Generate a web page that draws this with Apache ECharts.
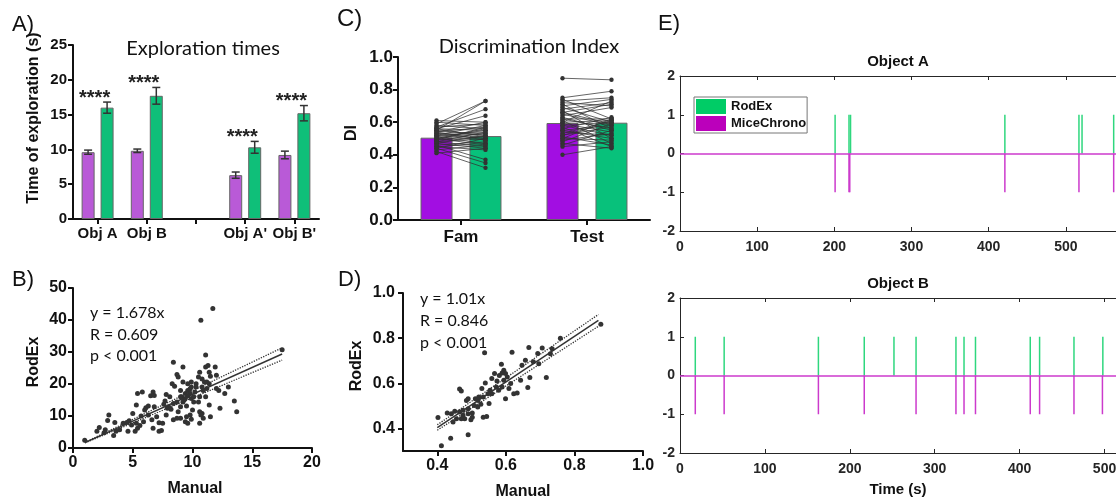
<!DOCTYPE html>
<html>
<head>
<meta charset="utf-8">
<title>RodEx vs manual scoring</title>
<script src="https://cdn.jsdelivr.net/npm/echarts@6/dist/echarts.min.js"></script>
<style>
html,body{margin:0;padding:0;background:#fff;}
#main{width:1116px;height:502px;}
</style>
</head>
<body>
<div id="main"></div>
<script>
// A) exploration times (manual = purple, RodEx = green)
var aCats = ["Obj A", "Obj B", "", "Obj A'", "Obj B'"];
var aManual = [9.6, 9.8, '-', 6.3, 9.2];
var aManualErr = [0.3, 0.25, 0, 0.45, 0.55];
var aRodEx = [16.0, 17.7, '-', 10.3, 15.2];
var aRodExErr = [0.8, 1.2, 0, 0.85, 1.1];
var aStars = ['****', '****', '', '****', '****'];

// B) RodEx vs manual times
var bPoints = [
  [0.98,2.4],[2.2,6.4],[2.7,5.7],[3.0,10.3],[2.9,8.6],[2.6,4.8],[3.5,8.0],[3.4,3.9],[3.9,5.7],[4.6,5.2],
  [4.5,8.0],[4.7,8.5],[5.3,13.4],[5.4,17.0],[5.8,17.5],[5.3,7.7],[5.2,5.2],[5.4,6.2],[5.6,7.0],[5.9,8.2],
  [5.7,10.0],[6.1,12.6],[6.3,13.1],[6.5,16.3],[6.7,17.5],[6.8,16.4],[6.3,10.3],[6.6,8.8],[6.7,6.2],[7.0,9.8],
  [7.2,5.2],[7.4,5.5],[7.2,7.9],[7.5,7.7],[7.6,13.7],[7.9,12.4],[7.8,16.7],[8.0,12.9],[8.2,12.1],[8.4,13.9],
  [8.4,26.8],[8.3,20.1],[8.5,19.3],[8.7,23.0],[8.8,22.2],[9.0,18.0],[9.1,16.0],[9.2,25.3],[9.4,17.0],[9.2,14.4],
  [9.4,15.5],[9.6,18.0],[9.6,16.3],[9.8,18.5],[9.9,15.5],[9.9,20.6],[10.1,14.4],[10.0,11.9],[9.8,10.3],[9.5,9.8],
  [9.4,8.2],[9.0,9.3],[8.8,11.3],[8.4,8.8],[10.3,20.1],[10.5,22.2],[10.6,23.7],[10.8,21.6],[10.9,18.0],[11.0,20.6],
  [11.1,25.3],[11.1,29.1],[11.3,25.8],[11.4,23.7],[11.5,22.4],[11.4,20.1],[11.2,18.6],[11.1,16.0],[11.4,13.4],[10.8,10.8],
  [10.6,11.3],[10.7,10.3],[11.5,9.8],[11.9,25.3],[12.0,18.6],[12.0,22.7],[12.2,18.0],[12.3,12.4],[13.0,19.1],[12.7,17.0],
  [13.5,14.7],[13.7,11.3],[17.5,30.7],[10.7,39.9],[11.7,43.6],[10.3,19.1],[10.2,17.5],[10.6,16.0],[10.5,14.4],[9.5,13.1],
  [9.0,12.9],[8.7,14.4],[8.1,16.0],[7.7,14.7],[9.8,17.0],[10.1,16.0],[10.8,19.1],[11.2,20.6],[9.6,20.1],[9.2,20.6],
  [9.0,16.0],[9.3,15.0],[10.6,7.7],[10.9,9.3],[9.6,7.7],[9.9,9.0],[8.7,9.3],[7.8,10.3],[6.8,12.9],[6.0,11.9],
  [5.0,10.8],[4.2,7.7],[4.9,7.2],[3.6,5.2],[2.0,5.2],[9.9,19.1]
];
var bFitX = [1, 17.5];
var bSlope = 1.678;
var bSlopeCI = [1.57, 1.79];
var bStats = ['y = 1.678x', 'R = 0.609', 'p < 0.001'];

// C) discrimination index, paired values [manual, RodEx]
var cCats = ['Fam', 'Test'];
var cManual = [0.505, 0.595];
var cRodEx = [0.515, 0.597];
var cFamPairs = [
  [0.61,0.60],[0.60,0.58],[0.59,0.73],[0.58,0.56],[0.57,0.68],[0.57,0.59],[0.56,0.64],[0.56,0.55],[0.55,0.73],[0.55,0.52],
  [0.54,0.60],[0.54,0.57],[0.53,0.54],[0.53,0.50],[0.52,0.58],[0.52,0.49],[0.51,0.55],[0.51,0.47],[0.50,0.53],[0.50,0.46],
  [0.49,0.51],[0.49,0.57],[0.48,0.45],[0.48,0.50],[0.47,0.44],[0.47,0.52],[0.46,0.48],[0.46,0.37],[0.45,0.43],[0.45,0.47],
  [0.44,0.35],[0.44,0.50],[0.43,0.46],[0.42,0.32],[0.41,0.44],[0.52,0.53],[0.54,0.49],[0.50,0.56],[0.48,0.54],[0.56,0.51]
];
var cTestPairs = [
  [0.87,0.86],[0.75,0.79],[0.74,0.62],[0.73,0.75],[0.72,0.70],[0.71,0.56],[0.70,0.74],[0.69,0.60],[0.68,0.72],[0.67,0.50],
  [0.66,0.71],[0.65,0.58],[0.64,0.69],[0.63,0.55],[0.62,0.62],[0.61,0.47],[0.60,0.73],[0.60,0.61],[0.59,0.54],[0.58,0.60],
  [0.57,0.45],[0.56,0.63],[0.55,0.58],[0.54,0.52],[0.53,0.61],[0.52,0.57],[0.51,0.46],[0.50,0.62],[0.49,0.53],[0.48,0.59],
  [0.47,0.44],[0.46,0.55],[0.45,0.48],[0.40,0.45],[0.58,0.52],[0.62,0.56],[0.66,0.59],[0.55,0.50],[0.52,0.60],[0.50,0.49]
];

// D) RodEx vs manual DI
var dPoints = [
  [0.402,0.448],[0.412,0.323],[0.439,0.357],[0.490,0.372],[0.429,0.468],[0.441,0.465],[0.451,0.476],[0.465,0.473],[0.475,0.458],[0.480,0.443],
  [0.470,0.443],[0.498,0.438],[0.502,0.468],[0.490,0.487],[0.485,0.524],[0.490,0.531],[0.465,0.575],[0.470,0.566],[0.511,0.531],[0.519,0.524],
  [0.521,0.539],[0.527,0.507],[0.534,0.450],[0.544,0.453],[0.530,0.577],[0.540,0.601],[0.551,0.510],[0.554,0.569],[0.559,0.554],[0.567,0.643],
  [0.574,0.610],[0.581,0.635],[0.587,0.684],[0.589,0.584],[0.594,0.613],[0.599,0.643],[0.604,0.628],[0.599,0.531],[0.609,0.577],[0.623,0.554],
  [0.633,0.557],[0.538,0.735],[0.618,0.737],[0.643,0.613],[0.657,0.702],[0.667,0.759],[0.664,0.581],[0.670,0.626],[0.693,0.732],[0.706,0.756],
  [0.696,0.687],[0.718,0.626],[0.759,0.799],[0.877,0.862],[0.680,0.695],[0.647,0.680],[0.572,0.584],[0.548,0.554],[0.518,0.495],[0.508,0.502],
  [0.456,0.443],[0.446,0.428],[0.502,0.450],[0.579,0.569],[0.614,0.599],[0.594,0.658],[0.559,0.621],[0.534,0.539],[0.490,0.465],[0.475,0.480],
  [0.735,0.753],[0.730,0.731],[0.589,0.646]
];
var dFitX = [0.4, 0.87];
var dSlope = 1.01;
var dSlopeCI = [0.98, 1.04];
var dTicks = [0.4, 0.6, 0.8, 1.0];
var dStats = ['y = 1.01x', 'R = 0.846', 'p < 0.001'];

// E) exploration events over time (s)
var eTopRodEx = [201, 219, 221, 421, 517, 521, 562];
var eTopMice = [201, 219, 220, 421, 517, 562];
var eBotRodEx = [18, 52, 163, 217, 252, 278, 325, 334.5, 348, 412.5, 423.5, 464, 498];
var eBotMice = [18, 52, 163, 217, 278, 325, 334.5, 348, 412.5, 423.5, 464, 497.5];

var ink = '#111';
var aPurple = '#B95AD7', aGreen = '#0FBF79';
var cPurple = '#A20EE2', cGreen = '#08C17B';
var eGreen = '#2FD77E', ePurple = '#CC3ACC';

function gpAxis(o) {
  var ax = {
    type: o.type || 'value',
    gridIndex: o.grid,
    min: o.min, max: o.max, interval: o.interval,
    axisLine: {show: true, onZero: false, lineStyle: {color: ink, width: 2}},
    axisTick: {show: true, length: 5, alignWithLabel: true, interval: 0, lineStyle: {color: ink, width: 2}},
    axisLabel: {color: ink, fontWeight: 'bold', fontSize: o.size, fontFamily: 'Liberation Sans', margin: o.margin, formatter: o.formatter, interval: 0},
    splitLine: {show: false}
  };
  if (o.data) ax.data = o.data;
  if (o.ticks) {
    ax.axisTick.customValues = o.ticks;
    ax.axisLabel.customValues = o.ticks;
  }
  return ax;
}

function mlAxis(o) {
  return {
    type: 'value', gridIndex: o.grid, position: o.position,
    min: o.min, max: o.max, interval: o.interval,
    axisLine: {show: true, onZero: false, lineStyle: {color: '#262626', width: 1}},
    axisTick: {show: true, inside: true, length: 4, lineStyle: {color: '#262626', width: 1}},
    axisLabel: {show: o.labels !== false, color: '#262626', fontWeight: 'bold', fontSize: 14, fontFamily: 'Liberation Sans', margin: o.margin},
    splitLine: {show: false}
  };
}

function oneDec(v) { return v.toFixed(1); }

function errorBars(shift, stars) {
  return function (params, api) {
    var i = api.value(0), m = api.value(1), e = api.value(2);
    var c = api.coord([i, m]);
    var hi = api.coord([i, m + e]);
    var lo = api.coord([i, m - e]);
    var x = c[0] + shift;
    var st = {stroke: '#333', lineWidth: 1.5};
    var kids = [
      {type: 'line', shape: {x1: x, y1: hi[1], x2: x, y2: lo[1]}, style: st},
      {type: 'line', shape: {x1: x - 4, y1: hi[1], x2: x + 4, y2: hi[1]}, style: st},
      {type: 'line', shape: {x1: x - 4, y1: lo[1], x2: x + 4, y2: lo[1]}, style: st}
    ];
    if (stars && stars[i]) {
      kids.push({type: 'text', x: c[0] - 3, y: hi[1] - 4,
        style: {text: stars[i], font: 'bold 20px "Liberation Sans"', fill: '#222',
          align: 'center', verticalAlign: 'middle', textAlign: 'center', textVerticalAlign: 'middle'}});
    }
    return {type: 'group', children: kids};
  };
}

function pairLines(params, api) {
  var i = api.value(0);
  var a = api.coord([i, api.value(1)]);
  var b = api.coord([i, api.value(2)]);
  var x1 = a[0] - 24.5, x2 = b[0] + 24.5;
  return {type: 'group', children: [
    {type: 'line', shape: {x1: x1, y1: a[1], x2: x2, y2: b[1]}, style: {stroke: 'rgba(50,50,50,0.75)', lineWidth: 1}},
    {type: 'circle', shape: {cx: x1, cy: a[1], r: 2.2}, style: {fill: '#333'}},
    {type: 'circle', shape: {cx: x2, cy: b[1], r: 2.2}, style: {fill: '#333'}}
  ]};
}

function eventLines(color, level) {
  return function (params, api) {
    var t = api.value(0);
    var p0 = api.coord([t, 0]), p1 = api.coord([t, level]);
    return {type: 'line', shape: {x1: p0[0], y1: p0[1], x2: p1[0], y2: p1[1]}, style: {stroke: color, lineWidth: 1.5}};
  };
}

function errData(vals, errs) {
  var out = [];
  for (var i = 0; i < vals.length; i++) {
    if (vals[i] !== '-') out.push([i, vals[i], errs[i]]);
  }
  return out;
}

function pairData(idx, pairs) {
  return pairs.map(function (p) { return [idx, p[0], p[1]]; });
}

function fitLine(xs, slope, x, y, dotted) {
  return {
    type: 'line', xAxisIndex: x, yAxisIndex: y, silent: true, symbol: 'none', z: 4,
    data: xs.map(function (v) { return [v, v * slope]; }),
    lineStyle: {color: '#333', width: dotted ? 1.3 : 1.5, type: dotted ? 'dotted' : 'solid'}
  };
}

function events(name, times, x, y, color, level, legendColor, zeroLine) {
  var s = {
    type: 'custom', name: name, xAxisIndex: x, yAxisIndex: y,
    renderItem: eventLines(color, level),
    data: times.map(function (t) { return [t]; }),
    encode: {x: 0},
    itemStyle: {color: legendColor},
    z: 3
  };
  if (zeroLine) {
    s.markLine = {silent: true, symbol: ['none', 'none'], label: {show: false}, animation: false,
      lineStyle: {color: color, width: 1.5, type: 'solid'}, data: [{yAxis: 0}]};
  }
  return s;
}

function txt(t, x, y, font, align, rot) {
  return {type: 'text', x: x, y: y, rotation: rot || 0, z: 10,
    style: {text: t, font: font, fill: ink, align: align || 'left', verticalAlign: 'middle',
      textAlign: align || 'left', textVerticalAlign: 'middle'}};
}

var labelFont = '22px "Liberation Sans"';
var titleFont = '20px Lato';
var statFont = '16px Lato';
var nameFont = 'bold 16px "Liberation Sans"';
var mlFont = 'bold 15px "Liberation Sans"';

var texts = [
  txt('A)', 12, 25, labelFont), txt('B)', 12, 280, labelFont), txt('C)', 337, 19, '24px "Liberation Sans"'),
  txt('D)', 338, 280, labelFont), txt('E)', 658, 24, labelFont),
  txt('Exploration times', 203, 49, titleFont, 'center'),
  txt('Discrimination Index', 529, 47, titleFont, 'center'),
  txt('Object A', 898, 62, mlFont, 'center'),
  txt('Object B', 898, 284, mlFont, 'center'),
  txt('Time (s)', 898, 490, mlFont, 'center'),
  txt('Time of exploration (s)', 34, 118, nameFont, 'center', Math.PI / 2),
  txt('RodEx', 34, 362, nameFont, 'center', Math.PI / 2),
  txt('Manual', 195, 489, nameFont, 'center'),
  txt('DI', 352, 133, nameFont, 'center', Math.PI / 2),
  txt('RodEx', 357, 366, nameFont, 'center', Math.PI / 2),
  txt('Manual', 523, 492, nameFont, 'center')
];
bStats.forEach(function (s, i) { texts.push(txt(s, 90, 313 + i * 21.5, statFont)); });
dStats.forEach(function (s, i) { texts.push(txt(s, 420, 299 + i * 22, statFont)); });

var grids = [
  {left: 73, top: 45, width: 246, height: 174},
  {left: 73, top: 288, width: 239, height: 160},
  {left: 398, top: 57, width: 252, height: 163},
  {left: 403, top: 293, width: 240, height: 158},
  {left: 680, top: 76, width: 463, height: 155},
  {left: 680, top: 298, width: 467, height: 155}
];
grids.forEach(function (g) { g.containLabel = false; g.outerBoundsMode = 'none'; });

var option = {
  animation: false,
  backgroundColor: '#fff',
  grid: grids,
  graphic: texts,
  legend: {
    data: [{name: 'RodEx', icon: 'rect'}, {name: 'MiceChrono', icon: 'rect'}],
    orient: 'vertical', left: 694, top: 97,
    itemWidth: 30, itemHeight: 15, itemGap: 2,
    padding: [2, 1, 2, 2],
    backgroundColor: '#fff', borderColor: '#777', borderWidth: 1, borderRadius: 0,
    textStyle: {color: '#111', fontWeight: 'bold', fontSize: 13, fontFamily: 'Liberation Sans'},
    selectedMode: false
  },
  xAxis: [
    gpAxis({type: 'category', grid: 0, data: aCats, size: 15, margin: 7}),
    gpAxis({grid: 1, min: 0, max: 20, interval: 5, size: 16, margin: 7}),
    gpAxis({type: 'category', grid: 2, data: cCats, size: 17, margin: 9}),
    gpAxis({grid: 3, min: 0.3, max: 1.0, ticks: dTicks, size: 16, margin: 7, formatter: oneDec}),
    mlAxis({grid: 4, position: 'bottom', min: 0, max: 600, interval: 100, margin: 9}),
    mlAxis({grid: 4, position: 'top', min: 0, max: 600, interval: 100, labels: false}),
    mlAxis({grid: 5, position: 'bottom', min: 0, max: 550, interval: 100, margin: 9}),
    mlAxis({grid: 5, position: 'top', min: 0, max: 550, interval: 100, labels: false})
  ],
  yAxis: [
    gpAxis({grid: 0, min: 0, max: 25, interval: 5, size: 15, margin: 6}),
    gpAxis({grid: 1, min: 0, max: 50, interval: 10, size: 16, margin: 6}),
    gpAxis({grid: 2, min: 0, max: 1, interval: 0.2, size: 17, margin: 5, formatter: oneDec}),
    gpAxis({grid: 3, min: 0.3, max: 1.0, ticks: dTicks, size: 16, margin: 8, formatter: oneDec}),
    mlAxis({grid: 4, min: -2, max: 2, interval: 1, margin: 5}),
    mlAxis({grid: 5, min: -2, max: 2, interval: 1, margin: 5})
  ],
  series: [
    {type: 'bar', name: 'A manual', xAxisIndex: 0, yAxisIndex: 0, data: aManual, barWidth: 13, barGap: '46%',
      itemStyle: {color: aPurple, borderColor: '#666', borderWidth: 1}},
    {type: 'bar', name: 'A RodEx', xAxisIndex: 0, yAxisIndex: 0, data: aRodEx, barWidth: 13, barGap: '46%',
      itemStyle: {color: aGreen, borderColor: '#666', borderWidth: 1}},
    {type: 'custom', name: 'A manual err', xAxisIndex: 0, yAxisIndex: 0, renderItem: errorBars(-9.5), data: errData(aManual, aManualErr), z: 5},
    {type: 'custom', name: 'A RodEx err', xAxisIndex: 0, yAxisIndex: 0, renderItem: errorBars(9.5, aStars), data: errData(aRodEx, aRodExErr), z: 5},

    {type: 'scatter', name: 'B points', xAxisIndex: 1, yAxisIndex: 1, data: bPoints, symbolSize: 5, itemStyle: {color: '#333', opacity: 1}},
    fitLine(bFitX, bSlope, 1, 1, false),
    fitLine(bFitX, bSlopeCI[0], 1, 1, true),
    fitLine(bFitX, bSlopeCI[1], 1, 1, true),

    {type: 'bar', name: 'C manual', xAxisIndex: 2, yAxisIndex: 2, data: cManual, barWidth: 32, barGap: '53%',
      itemStyle: {color: cPurple, borderColor: '#666', borderWidth: 1}},
    {type: 'bar', name: 'C RodEx', xAxisIndex: 2, yAxisIndex: 2, data: cRodEx, barWidth: 32, barGap: '53%',
      itemStyle: {color: cGreen, borderColor: '#666', borderWidth: 1}},
    {type: 'custom', name: 'C pairs', xAxisIndex: 2, yAxisIndex: 2, renderItem: pairLines,
      data: pairData(0, cFamPairs).concat(pairData(1, cTestPairs)), z: 5},

    {type: 'scatter', name: 'D points', xAxisIndex: 3, yAxisIndex: 3, data: dPoints, symbolSize: 5, itemStyle: {color: '#333', opacity: 1}},
    fitLine(dFitX, dSlope, 3, 3, false),
    fitLine(dFitX, dSlopeCI[0], 3, 3, true),
    fitLine(dFitX, dSlopeCI[1], 3, 3, true),

    events('RodEx', eTopRodEx, 4, 4, eGreen, 1, '#00CC66', false),
    events('MiceChrono', eTopMice, 4, 4, ePurple, -1, '#BB00BB', true),
    events('RodEx', eBotRodEx, 6, 5, eGreen, 1, '#00CC66', false),
    events('MiceChrono', eBotMice, 6, 5, ePurple, -1, '#BB00BB', true)
  ]
};

var chart = echarts.init(document.getElementById('main'), null, {renderer: 'canvas'});
chart.setOption(option);
</script>
</body>
</html>
